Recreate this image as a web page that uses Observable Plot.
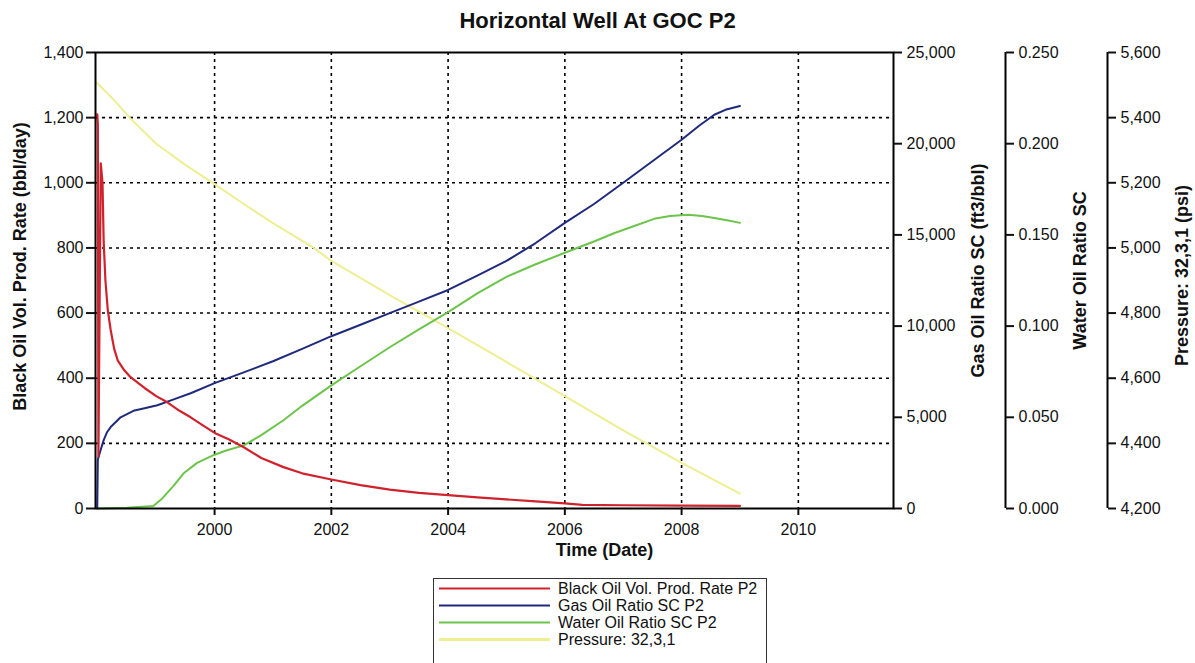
<!DOCTYPE html>
<html>
<head>
<meta charset="utf-8">
<script src="https://cdn.jsdelivr.net/npm/d3@7"></script>
<script src="https://cdn.jsdelivr.net/npm/@observablehq/plot@0.6"></script>
<style>
  html, body { margin: 0; padding: 0; background: #fff; overflow: hidden; width: 1195px; height: 663px; }
  body { position: relative; font-family: "Liberation Sans", Arial, sans-serif; }
  #title { position: absolute; left: 0; top: 8px; width: 1195px; text-align: center; font-weight: bold; font-size: 22px; color: #111; line-height: 26px; }
  #chart { position: absolute; left: 0; top: 36px; }
  #legend { position: absolute; left: 433px; top: 578px; width: 334px; height: 100px; border: 1px solid #333; box-sizing: border-box; }
  .row { position: absolute; left: 0; height: 17px; width: 330px; }
  .row svg { position: absolute; left: 5px; top: 0; }
  .row span { position: absolute; left: 124px; top: 0; font-size: 16px; line-height: 17px; color: #111; white-space: nowrap; }
</style>
</head>
<body>
<div id="title">Horizontal Well At GOC P2</div>
<div id="chart"></div>
<div id="legend"></div>
<script>
// ---- data ----
const xDomain = [1997.96, 2011.63];
const xTicks = [2000, 2002, 2004, 2006, 2008, 2010];
const rateTicks = [0, 200, 400, 600, 800, 1000, 1200, 1400];
const gorTicks = [0, 5000, 10000, 15000, 20000, 25000];
const worTicks = [0, 0.05, 0.1, 0.15, 0.2, 0.25];
const presTicks = [4200, 4400, 4600, 4800, 5000, 5200, 5400, 5600];

const seriesNames = ["Black Oil Vol. Prod. Rate P2", "Gas Oil Ratio SC P2", "Water Oil Ratio SC P2", "Pressure: 32,3,1"];
const seriesColors = ["#d0222c", "#1f2a7c", "#6cc44a", "#eeee92"];

const oilYears = [1997.99, 1998.0, 1998.01, 1998.05, 1998.08, 1998.1, 1998.13, 1998.17, 1998.22, 1998.28, 1998.34, 1998.45, 1998.56, 1998.8, 1999.0, 1999.19, 1999.4, 1999.59, 1999.8, 2000.0, 2000.25, 2000.5, 2000.8, 2001.18, 2001.5, 2002.0, 2002.5, 2003.0, 2003.5, 2004.0, 2004.5, 2005.0, 2005.5, 2006.0, 2006.3, 2007.0, 2008.0, 2009.0];
const oilRate = [1210, 1180, 160, 1060, 1000, 820, 700, 610, 548, 490, 455, 425, 403, 370, 345, 326, 300, 280, 255, 232, 212, 188, 155, 127, 108, 89, 72, 58, 48, 41, 34, 28, 22, 16, 11, 10, 9, 8];

const gorYears = [1997.99, 1998.0, 1998.04, 1998.1, 1998.16, 1998.22, 1998.39, 1998.61, 1998.8, 1999.02, 1999.3, 1999.59, 2000.0, 2000.5, 2001.0, 2001.5, 2002.0, 2002.5, 2003.0, 2003.5, 2004.0, 2004.5, 2005.0, 2005.5, 2006.0, 2006.5, 2007.0, 2007.5, 2008.0, 2008.3, 2008.56, 2008.75, 2009.0];
const gorValues = [0, 2679, 3125, 3750, 4196, 4464, 5000, 5357, 5500, 5661, 5982, 6321, 6875, 7464, 8071, 8750, 9446, 10071, 10714, 11339, 11982, 12768, 13571, 14554, 15661, 16696, 17857, 19036, 20214, 20982, 21589, 21857, 22071];

const worYears = [1998.0, 1998.5, 1998.95, 1999.1, 1999.3, 1999.47, 1999.7, 2000.0, 2000.2, 2000.5, 2000.8, 2001.18, 2001.5, 2002.0, 2002.5, 2003.0, 2003.5, 2004.0, 2004.5, 2005.0, 2005.5, 2006.0, 2006.5, 2006.84, 2007.2, 2007.53, 2007.8, 2008.11, 2008.35, 2008.56, 2008.8, 2009.0];
const worValues = [0, 0.0004, 0.0014, 0.0054, 0.0125, 0.0193, 0.0250, 0.0295, 0.0318, 0.0346, 0.0402, 0.0484, 0.0563, 0.0675, 0.0780, 0.0884, 0.0982, 0.1077, 0.1179, 0.1270, 0.1339, 0.1402, 0.1464, 0.1509, 0.1550, 0.1588, 0.1604, 0.1611, 0.1604, 0.1593, 0.1579, 0.1566];

const presYears = [1997.98, 1998.3, 1998.56, 1999.0, 1999.5, 2000.0, 2000.5, 2001.0, 2001.7, 2002.0, 2003.0, 2004.0, 2005.0, 2006.0, 2007.0, 2008.0, 2009.0];
const presValues = [5508, 5450, 5397, 5320, 5255, 5196, 5135, 5076, 5000, 4960, 4855, 4754, 4650, 4545, 4440, 4340, 4246];

// ---- scale conversions onto the left (rate) axis ----
const rateMax = 1400;
const gorToY = v => v * rateMax / 25000;
const worToY = v => v * rateMax / 0.25;
const presToY = v => v - 4200;

const oilData = oilYears.map((t, i) => ({t, v: oilRate[i]}));
const gorData = gorYears.map((t, i) => ({t, v: gorValues[i]}));
const worData = worYears.map((t, i) => ({t, v: worValues[i]}));
const presData = presYears.map((t, i) => ({t, v: presValues[i]}));

const fmtComma = d3.format(",");
const gridStyle = {stroke: "#000", strokeOpacity: 1, strokeWidth: 1.6, strokeDasharray: "3,4"};
const titleStyle = {fontWeight: "bold", fontSize: 18, fill: "#111", rotate: -90, textAnchor: "middle", lineAnchor: "middle"};

const chart = Plot.plot({
  width: 1195,
  height: 534,
  marginTop: 16,
  marginBottom: 62,
  marginLeft: 95,
  marginRight: 302,
  style: {fontFamily: "'Liberation Sans', Arial, sans-serif", fontSize: "16px", color: "#111", background: "#fff"},
  x: {type: "linear", domain: xDomain},
  y: {domain: [0, rateMax]},
  marks: [
    Plot.gridY(rateTicks.slice(1, -1), gridStyle),
    Plot.gridX(xTicks, gridStyle),
    Plot.line(presData, {x: "t", y: d => presToY(d.v), stroke: seriesColors[3], strokeWidth: 2}),
    Plot.line(worData, {x: "t", y: d => worToY(d.v), stroke: seriesColors[2], strokeWidth: 2}),
    Plot.line(gorData, {x: "t", y: d => gorToY(d.v), stroke: seriesColors[1], strokeWidth: 2}),
    Plot.line(oilData, {x: "t", y: "v", stroke: seriesColors[0], strokeWidth: 2.2}),
    Plot.frame({stroke: "#000", strokeWidth: 2}),
    // left axis
    Plot.axisY(rateTicks, {anchor: "left", tickSize: 9, tickPadding: 3, tickFormat: fmtComma, strokeWidth: 2, label: null}),
    // bottom axis
    Plot.axisX(xTicks, {anchor: "bottom", tickSize: 7, tickPadding: 8, tickFormat: d => String(d), strokeWidth: 2, label: null}),
    // GOR axis
    Plot.axisY(gorTicks.map(gorToY), {anchor: "right", tickSize: 8, tickPadding: 5, strokeWidth: 2,
      tickFormat: d => fmtComma(Math.round(d * 25000 / rateMax)), label: null}),
    // WOR axis
    Plot.ruleX([xDomain[1]], {dx: 112, stroke: "#000", strokeWidth: 2}),
    Plot.axisY(worTicks.map(worToY), {anchor: "right", dx: 112, tickSize: 8, tickPadding: 5, strokeWidth: 2,
      tickFormat: d => d3.format(".3f")(d * 0.25 / rateMax), label: null}),
    // Pressure axis
    Plot.ruleX([xDomain[1]], {dx: 214, stroke: "#000", strokeWidth: 2}),
    Plot.axisY(presTicks.map(presToY), {anchor: "right", dx: 214, tickSize: 8, tickPadding: 5, strokeWidth: 2,
      tickFormat: d => fmtComma(Math.round(d + 4200)), label: null}),
    // axis titles
    Plot.text(["Black Oil Vol. Prod. Rate (bbl/day)"], {frameAnchor: "left", dx: -75, dy: -14, ...titleStyle}),
    Plot.text(["Gas Oil Ratio SC (ft3/bbl)"], {frameAnchor: "right", dx: 85, dy: -10, ...titleStyle}),
    Plot.text(["Water Oil Ratio SC"], {frameAnchor: "right", dx: 187, dy: -10, ...titleStyle}),
    Plot.text(["Pressure: 32,3,1 (psi)"], {frameAnchor: "right", dx: 289, dy: -5, ...titleStyle}),
    Plot.text(["Time (Date)"], {frameAnchor: "bottom", dx: 110, dy: 47, fontWeight: "bold", fontSize: 18, fill: "#111"})
  ]
});
document.getElementById("chart").appendChild(chart);

// legend
const legend = document.getElementById("legend");
seriesNames.forEach((name, i) => {
  const row = document.createElement("div");
  row.className = "row";
  row.style.top = (1 + i * 17) + "px";
  row.innerHTML = `<svg width="112" height="17"><line x1="0" x2="111" y1="8.5" y2="8.5" stroke="${seriesColors[i]}" stroke-width="${i === 3 ? 3 : 2.2}"/></svg><span>${name}</span>`;
  legend.appendChild(row);
});
</script>
</body>
</html>
